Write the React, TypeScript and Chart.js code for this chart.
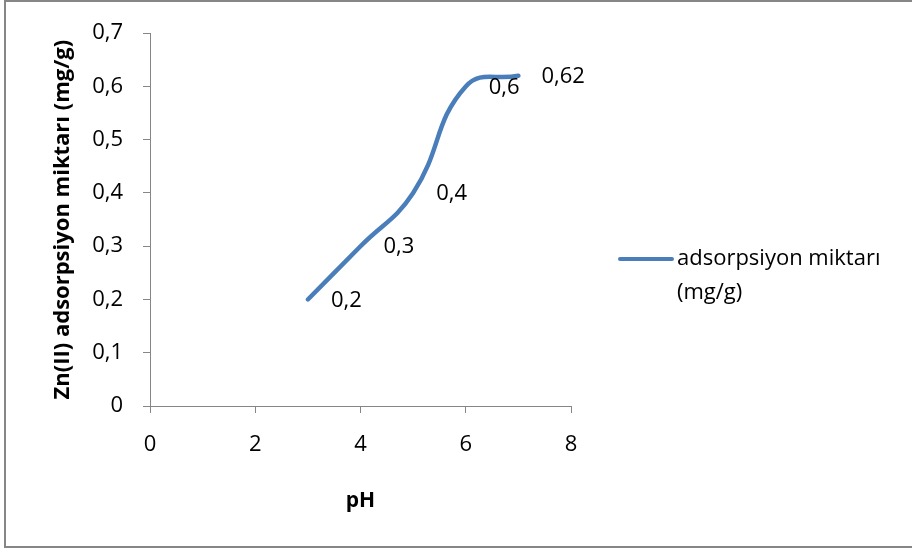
import React, { useEffect, useRef } from "react";
import { Chart, registerables } from "chart.js";

Chart.register(...registerables);

// pH values and the Zn(II) amount adsorbed at each
const phValues = [3, 4, 5, 6, 7];
const adsorption = [0.2, 0.3, 0.4, 0.6, 0.62];

const seriesName = ["adsorpsiyon miktarı", "(mg/g)"];
const xTitle = "pH";
const yTitle = "Zn(II) adsorpsiyon miktarı (mg/g)";

const LINE_COLOR = "#4a7ebb";
const AXIS_COLOR = "#868686";
const FONT = "'Open Sans', sans-serif";

const fmt = (v: number) => String(v).replace(".", ",");

// outer frame around the whole chart
const framePlugin = {
  id: "frame",
  beforeDraw(chart: any) {
    const { ctx } = chart;
    ctx.save();
    ctx.fillStyle = "#ffffff";
    ctx.fillRect(0, 0, chart.width, chart.height);
    ctx.strokeStyle = AXIS_COLOR;
    ctx.lineWidth = 2;
    ctx.strokeRect(5, 1, chart.width + 10, chart.height - 3);
    ctx.restore();
  },
};

// value labels to the right of each point
const valueLabelPlugin = {
  id: "valueLabels",
  afterDatasetsDraw(chart: any) {
    const { ctx } = chart;
    const meta = chart.getDatasetMeta(0);
    ctx.save();
    ctx.font = `22px ${FONT}`;
    ctx.fillStyle = "#000000";
    ctx.textAlign = "left";
    ctx.textBaseline = "middle";
    meta.data.forEach((pt: any, i: number) => {
      ctx.fillText(fmt(adsorption[i]), pt.x + 23, pt.y + 1);
    });
    ctx.restore();
  },
};

// legend on the right with a wrapped series name
const sideLegendPlugin = {
  id: "sideLegend",
  afterDraw(chart: any) {
    const { ctx } = chart;
    ctx.save();
    ctx.strokeStyle = LINE_COLOR;
    ctx.lineWidth = 4;
    ctx.lineCap = "round";
    ctx.beginPath();
    ctx.moveTo(620, 259);
    ctx.lineTo(672, 259);
    ctx.stroke();
    ctx.font = `22px ${FONT}`;
    ctx.fillStyle = "#000000";
    ctx.textAlign = "left";
    ctx.textBaseline = "middle";
    ctx.fillText(seriesName[0], 677, 259);
    ctx.fillText(seriesName[1], 677, 293);
    ctx.restore();
  },
};

export default function App() {
  const canvasRef = useRef<HTMLCanvasElement>(null);

  useEffect(() => {
    if (!canvasRef.current) return;
    const chart = new Chart(canvasRef.current, {
      type: "line",
      data: {
        datasets: [
          {
            label: seriesName.join(" "),
            data: phValues.map((x, i) => ({ x, y: adsorption[i] })),
            borderColor: LINE_COLOR,
            borderWidth: 4.5,
            borderCapStyle: "round",
            pointRadius: 0,
            tension: 0.45,
            fill: false,
          },
        ],
      },
      options: {
        responsive: false,
        animation: false,
        layout: { padding: { top: 31, right: 341, left: 0, bottom: 0 } },
        plugins: {
          legend: { display: false },
          tooltip: { enabled: false },
        },
        scales: {
          x: {
            type: "linear",
            min: 0,
            max: 8,
            afterFit: (s: any) => {
              s.height = 143;
            },
            ticks: {
              stepSize: 2,
              padding: 19,
              color: "#000000",
              font: { family: FONT, size: 22 },
            },
            grid: {
              drawOnChartArea: false,
              drawTicks: true,
              tickLength: 7,
              color: AXIS_COLOR,
            },
            border: { color: AXIS_COLOR, width: 1 },
            title: {
              display: true,
              text: xTitle,
              color: "#000000",
              font: { family: FONT, size: 21, weight: "bold" },
              padding: { top: 0, bottom: 35 },
            },
          },
          y: {
            type: "linear",
            min: 0,
            max: 0.7,
            afterFit: (s: any) => {
              s.width = 150;
            },
            ticks: {
              stepSize: 0.1,
              padding: 20,
              color: "#000000",
              font: { family: FONT, size: 22 },
              callback: (v: any) => fmt(Math.round(Number(v) * 10) / 10),
            },
            grid: {
              drawOnChartArea: false,
              drawTicks: true,
              tickLength: 7,
              color: AXIS_COLOR,
            },
            border: { color: AXIS_COLOR, width: 1 },
            title: {
              display: true,
              text: yTitle,
              color: "#000000",
              font: { family: FONT, size: 22, weight: "bold" },
              padding: { top: 50, bottom: 0 },
            },
          },
        },
      },
      plugins: [framePlugin, valueLabelPlugin, sideLegendPlugin],
    });
    return () => chart.destroy();
  }, []);

  return (
    <div style={{ position: "absolute", left: 0, top: 0, width: 912, height: 549 }}>
      <canvas ref={canvasRef} width={912} height={549} />
    </div>
  );
}
